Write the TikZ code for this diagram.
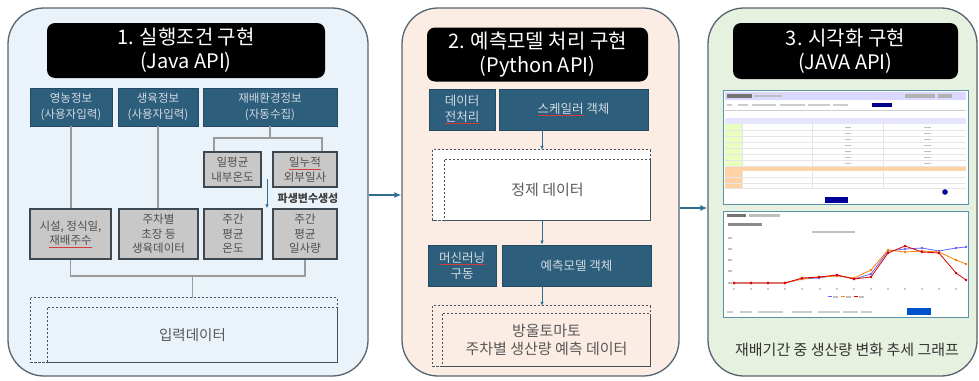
\documentclass[tikz,border=0pt]{standalone}
\usepackage{fontspec}
\setmainfont{Noto Sans CJK KR}
\usepackage{tikz}
\usetikzlibrary{arrows.meta,calc}
\usepackage{xcolor}
\definecolor{panelBlue}{HTML}{EAF2FA}
\definecolor{panelPeach}{HTML}{FBECE4}
\definecolor{panelGreen}{HTML}{E7F1E0}
\definecolor{panelLine}{HTML}{56646F}
\definecolor{infoBlue}{HTML}{2D5E7C}
\definecolor{infoText}{HTML}{D3DBE2}
\definecolor{cellGray}{HTML}{C8C8C8}
\definecolor{cellLine}{HTML}{3E4850}
\definecolor{cellText}{HTML}{4F4F4F}
\definecolor{linkGray}{HTML}{9B9B9B}
\definecolor{flowBlue}{HTML}{2F6E92}
\definecolor{storeLine}{HTML}{46525C}
\definecolor{spellRed}{HTML}{D23C3C}
\definecolor{shotLine}{HTML}{5A93A8}

% red spell-check underline
\newcommand{\squig}[2]{\textcolor{spellRed}{\underline{\textcolor{#1}{#2}}}}
% data store frame round a node: node, left strip, top strip, fill
\newcommand{\storeframe}[4]{%
  \fill[#4] ([shift={(-#2pt,#3pt)}]#1.north west) rectangle (#1.north east);
  \fill[#4] ([shift={(-#2pt,#3pt)}]#1.north west) rectangle (#1.south west);
  \draw[storedash] ([shift={(-#2pt,#3pt)}]#1.north west) rectangle (#1.south east);
  \draw[storedash] (#1.north west) -- (#1.north east);
  \draw[storedash] (#1.north west) -- (#1.south west);
  \draw[storeLine, line width=0.9pt] (#1.north east) -- (#1.south east) -- (#1.south west);
  \coordinate (#1-top) at ([yshift=#3pt]#1.north);
}

\begin{document}
\begin{tikzpicture}[
    x=1pt, y=-1pt,
    panel/.style={draw=panelLine, line width=1.3pt, rounded corners=36pt, inner sep=0pt},
    title/.style={fill=black, rounded corners=8pt, text=white, align=center,
                  inner sep=0pt, font=\fontsize{20}{24}\selectfont},
    infobox/.style={draw=infoBlue!80!black, fill=infoBlue, text=infoText, line width=0.8pt,
                    align=center, inner sep=0pt, font=\fontsize{11.5}{16}\selectfont},
    cellbox/.style={draw=cellLine, fill=cellGray, text=cellText, line width=1.4pt,
                    align=center, inner sep=0pt, font=\fontsize{11.5}{14.5}\selectfont},
    store/.style={inner sep=0pt, align=center, text=black!65},
    storedash/.style={draw=storeLine, line width=0.9pt, dash pattern=on 2.5pt off 1.5pt},
    link/.style={draw=linkGray, line width=1.5pt},
    flow/.style={-{Latex[length=4pt,width=3.5pt]}, draw=flowBlue, line width=0.8pt},
    bigflow/.style={-{Latex[length=7pt,width=6pt]}, draw=flowBlue, line width=1.8pt},
    shot/.style={draw=shotLine, fill=white, line width=1pt, inner sep=0pt},
]
\useasboundingbox (0,0) rectangle (979,380);

% panels
\node[panel, fill=panelBlue, minimum width=360pt, minimum height=368pt] (p1) at (188,192) {};
\node[panel, fill=panelPeach, minimum width=277pt, minimum height=368pt] (p2) at (540.5,192) {};
\node[panel, fill=panelGreen, minimum width=269pt, minimum height=368pt] (p3) at (842.5,192) {};

\node[title, minimum width=278pt, minimum height=55pt] (t1) at (186,50.5) {1. 실행조건 구현\\(Java API)};
\node[title, minimum width=221pt, minimum height=54pt] (t2) at (537.5,54.5) {2. 예측모델 처리 구현\\(Python API)};
\node[title, minimum width=225pt, minimum height=56pt] (t3) at (845.5,51) {3. 시각화 구현\\(JAVA API)};

% 1. execution conditions
\node[infobox, minimum width=82pt, minimum height=38pt] (farm) at (71,107) {영농정보\\(사용자입력)};
\node[infobox, minimum width=80pt, minimum height=38pt] (growth) at (158,107) {생육정보\\(사용자입력)};
\node[infobox, minimum width=134pt, minimum height=38pt] (env) at (270,107) {재배환경정보\\(자동수집)};
\node[cellbox, minimum width=57pt, minimum height=35pt] (intemp) at (232.5,169.5) {일평균\\내부온도};
\node[cellbox, minimum width=64pt, minimum height=35pt] (outsun) at (305,169.5) {\squig{cellText}{일누적}\\외부일사};
\node[cellbox, minimum width=81pt, minimum height=50pt] (site) at (70.5,234) {시설, 정식일,\\\squig{cellText}{재배주수}};
\node[cellbox, minimum width=79pt, minimum height=50pt] (gdata) at (158.5,234) {주차별\\초장 등\\생육데이터};
\node[cellbox, minimum width=58pt, minimum height=50pt] (wtemp) at (233,234) {주간\\평균\\온도};
\node[cellbox, minimum width=64pt, minimum height=50pt] (wsun) at (305,234) {주간\\평균\\일사량};
\node[store, minimum width=289pt, minimum height=54pt, font=\fontsize{14.5}{18}\selectfont] (input) at (192.5,335) {입력데이터};
\storeframe{input}{17}{10}{panelBlue}

\draw[link] (farm.south) -- (farm.south |- site.north);
\draw[link] (growth.south) -- (growth.south |- gdata.north);
\coordinate (envfork) at (270,138);
\draw[link] (env.south) -- (envfork);
\draw[link] (intemp.north -| 214,0) |- (envfork) -| (outsun.north -| 322,0);
\coordinate (inputfork) at (192.5,276);
\draw[link] (site.south) |- (inputfork) -| (wsun.south);
\draw[link] (inputfork) -- (input-top);
\coordinate (derivtop) at ($(intemp.south east)!0.5!(outsun.south west) + (0,-9)$);
\draw[flow] (derivtop) -- (derivtop |- wtemp.north);
\node[font=\bfseries\fontsize{11}{13}\selectfont, text=black!75] (deriv) at (308,198) {파생변수생성};

% 2. prediction model
\node[infobox, minimum width=66pt, minimum height=41pt, font=\fontsize{12.5}{16}\selectfont] (prep) at (462,109.5) {데이터\\\squig{infoText}{전처리}};
\node[infobox, minimum width=149pt, minimum height=41pt, font=\fontsize{12.5}{16}\selectfont] (scaler) at (573.5,109.5) {\squig{infoText}{스케일러} 객체};
\node[store, fill=white, minimum width=205pt, minimum height=60pt, font=\fontsize{15}{18}\selectfont] (clean) at (547.5,190) {정제 데이터};
\storeframe{clean}{12}{10}{white}
\node[infobox, minimum width=68pt, minimum height=41pt, font=\fontsize{12.5}{16}\selectfont] (mlrun) at (462,265.5) {\squig{infoText}{머신러닝}\\구동};
\node[infobox, minimum width=149pt, minimum height=41pt, font=\fontsize{12.5}{16}\selectfont] (model) at (576.5,265.5) {예측모델 객체};
\node[store, minimum width=207pt, minimum height=52pt, font=\fontsize{15}{18}\selectfont] (result) at (546.5,340) {방울토마토\\주차별 생산량 예측 데이터};
\storeframe{result}{10}{8}{panelPeach}

\coordinate (axis2) at (542,0);
\draw[flow] (scaler.south -| axis2) -- (clean-top -| axis2);
\draw[flow] (clean.south -| axis2) -- (model.north -| axis2);
\draw[flow] (model.south -| axis2) -- (result-top -| axis2);

% between panels
\draw[bigflow] (p1.east |- 0,195) -- (p2.west |- 0,195);
\draw[bigflow] (p2.east |- 0,208) -- (p3.west |- 0,208);

% 3. visualisation: table screenshot
\node[shot, minimum width=245pt, minimum height=114pt] (table) at (845.5,147) {};
\fill[blue!15] (725,92) rectangle (966,99.5);
\fill[black!55] (727,94) rectangle (752,97.5);
\fill[black!25] (754,94.5) rectangle (782,97);
\fill[black!30] (905,94) rectangle (935,97.5);
\fill[black!30] (938,94) rectangle (952,97.5);
\foreach \a/\b in {727/732, 738/748, 752/776, 780/805, 808/830, 833/848}
    \fill[black!20] (\a,104) rectangle (\b,106);
\fill[blue!55!black] (872,103) rectangle (892,106.5);
\draw[black!20] (725,110) -- (966,110);
\fill[blue!10] (725,118) rectangle (966,124);
\fill[green!35!yellow!25] (725,124) rectangle (742,166);
\foreach \r in {130,136,...,166}
    \draw[black!10] (725,\r) -- (966,\r);
\foreach \c in {742,812,883}
    \draw[black!10] (\c,118) -- (\c,188);
\foreach \r in {127,133,...,163} {
    \fill[black!25] (845,\r) rectangle (851,\r+1.3);
    \fill[black!25] (924,\r) rectangle (931,\r+1.3);
}
\fill[orange!35] (725,166.5) rectangle (966,171);
\fill[orange!35] (725,171) rectangle (742,188);
\foreach \r in {177,183,188}
    \draw[black!10] (725,\r) -- (966,\r);
\fill[blue!60!black] (945,192) circle (2.8pt);
\fill[blue!60!black] (825,197) rectangle (848,202.5);

% chart screenshot
\node[shot, minimum width=245pt, minimum height=106pt] (chart) at (845.5,264) {};
\fill[black!55] (727,214) rectangle (746,216.5);
\fill[black!25] (749,214) rectangle (780,216.5);
\fill[black!45] (728,223) rectangle (762,225.5);
\fill[black!25] (812,231) rectangle (855,233);
\foreach \y in {238,249,260,271,283}
    \fill[black!25] (728,\y-0.7) rectangle (732,\y+0.7);
\foreach \i in {0,...,13}
    \fill[black!20] ({733+17.1*\i},288) rectangle ({735+17.1*\i},289.5);
\draw[blue!60, line width=0.8pt, mark=*, mark size=0.9pt] plot coordinates {(734,283) (751,283) (768,283) (785,283) (802,279) (819,278) (837,275) (854,279) (871,274) (888,251) (905,249) (922,248) (939,251) (956,248) (966,247)};
\draw[orange, line width=0.8pt, mark=*, mark size=0.9pt] plot coordinates {(734,283) (751,283) (768,283) (785,283) (802,279) (819,277) (837,276) (854,278) (871,270) (888,250) (905,252) (922,251) (939,252) (956,260) (966,264)};
\draw[red!85!black, line width=0.8pt, mark=*, mark size=0.9pt] plot coordinates {(734,283) (751,283) (768,283) (785,283) (802,278) (819,277) (837,275) (854,279) (871,277) (888,253) (905,246) (922,252) (939,253) (956,273) (966,280)};
\foreach \x/\c in {828/blue!60, 841/orange, 854/red!85!black} {
    \draw[\c, line width=0.8pt] (\x,296.7) -- (\x+4,296.7);
    \fill[black!25] (\x+5,296) rectangle (\x+10,297.5);
}
\foreach \a/\b in {727/733, 740/752, 758/783, 792/812, 818/840, 843/858, 861/872}
    \fill[black!20] (\a,311) rectangle (\b,312.8);
\fill[blue!60!cyan!80!black] (907,308) rectangle (931,315);

\node[font=\fontsize{15}{18}\selectfont, text=black!80] (caption) at (847,350) {재배기간 중 생산량 변화 추세 그래프};
\end{tikzpicture}
\end{document}
